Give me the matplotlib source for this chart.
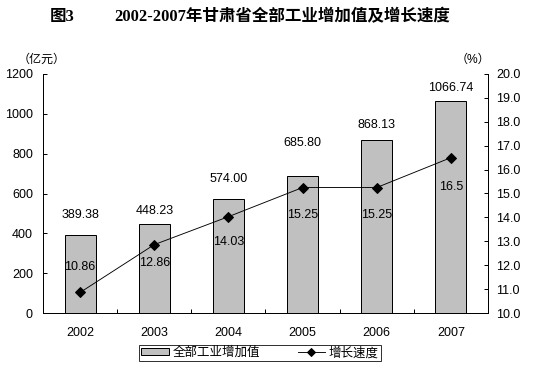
import matplotlib.pyplot as plt
import numpy as np
from matplotlib.patches import Patch
from matplotlib.lines import Line2D

plt.rcParams['font.family'] = ['Liberation Sans', 'Noto Sans CJK SC']

years = ['2002', '2003', '2004', '2005', '2006', '2007']
added_value = [389.38, 448.23, 574.00, 685.80, 868.13, 1066.74]
value_labels = ['389.38', '448.23', '574.00', '685.80', '868.13', '1066.74']
growth = [10.86, 12.86, 14.03, 15.25, 15.25, 16.5]
growth_labels = ['10.86', '12.86', '14.03', '15.25', '15.25', '16.5']

# label offsets in points (figure is 72 dpi so 1pt = 1px)
bar_off = [20, 13, 20, 33, 15, 13]
line_off = [25, -18, -25, -27, -27, -29]

fig = plt.figure(figsize=(536 / 72, 370 / 72), dpi=72)
ax = fig.add_axes([43 / 536, 57 / 370, 445 / 536, 239 / 370])
ax2 = ax.twinx()

x = np.arange(len(years))
ax.bar(x, added_value, width=0.42, color='#c0c0c0', edgecolor='black', linewidth=1)
ax2.plot(x, growth, color='black', linewidth=0.9, marker='D', markersize=7)

fs = 12.5
for i, v in enumerate(added_value):
    ax.annotate(value_labels[i], (x[i], v), xytext=(0, bar_off[i]), textcoords='offset points',
                ha='center', va='center', fontsize=fs)
for i, g in enumerate(growth):
    ax2.annotate(growth_labels[i], (x[i], g), xytext=(0, line_off[i]), textcoords='offset points',
                 ha='center', va='center', fontsize=fs)

ax.set_xlim(-0.5, 5.5)
ax.set_ylim(0, 1200)
ax.set_yticks(range(0, 1201, 200))
ax2.set_ylim(10, 20)
ax2.set_yticks(np.arange(10, 20.1, 1))
ax2.set_yticklabels([f'{t:.1f}' for t in np.arange(10, 20.1, 1)])

ax.set_xticks(x)
ax.set_xticklabels(years)
ax.set_xticks(np.arange(-0.5, 6, 1), minor=True)
ax.tick_params(axis='x', which='major', length=0, pad=14, labelsize=fs)
ax.tick_params(axis='x', which='minor', direction='in', length=4, width=1)
ax.tick_params(axis='y', direction='in', length=4, width=1, pad=10, labelsize=fs)
ax2.tick_params(axis='y', direction='in', length=4, width=1, pad=8, labelsize=fs)

for a in (ax, ax2):
    a.spines['top'].set_visible(False)
    for s in a.spines.values():
        s.set_linewidth(1)

fig.text(42 / 536, 1 - 60 / 370, '（亿元）', ha='center', va='center', fontsize=12)
fig.text(473 / 536, 1 - 60 / 370, '（%）', ha='center', va='center', fontsize=12)

title_font = ['Liberation Serif', 'Noto Sans CJK SC']
fig.text(62 / 536, 1 - 17 / 370, '图3', ha='center', va='center', fontsize=16.5, fontweight='bold',
         family=title_font)
fig.text(282 / 536, 1 - 17 / 370, '2002-2007年甘肃省全部工业增加值及增长速度', ha='center', va='center',
         fontsize=16.5, fontweight='bold', family=title_font)

handles = [Patch(facecolor='#c0c0c0', edgecolor='black', linewidth=1),
           Line2D([], [], color='black', linewidth=0.9, marker='D', markersize=6)]
leg = fig.legend(handles, ['全部工业增加值', '增长速度'], loc='center', ncol=2,
                 bbox_to_anchor=(260 / 536, 1 - 353 / 370), fontsize=12.5, frameon=True,
                 fancybox=False, edgecolor='black', handlelength=2.2, handleheight=0.5,
                 borderpad=0.15, columnspacing=3.0, handletextpad=0.3)
leg.get_frame().set_linewidth(1)

fig.savefig('out.png', dpi=72)
